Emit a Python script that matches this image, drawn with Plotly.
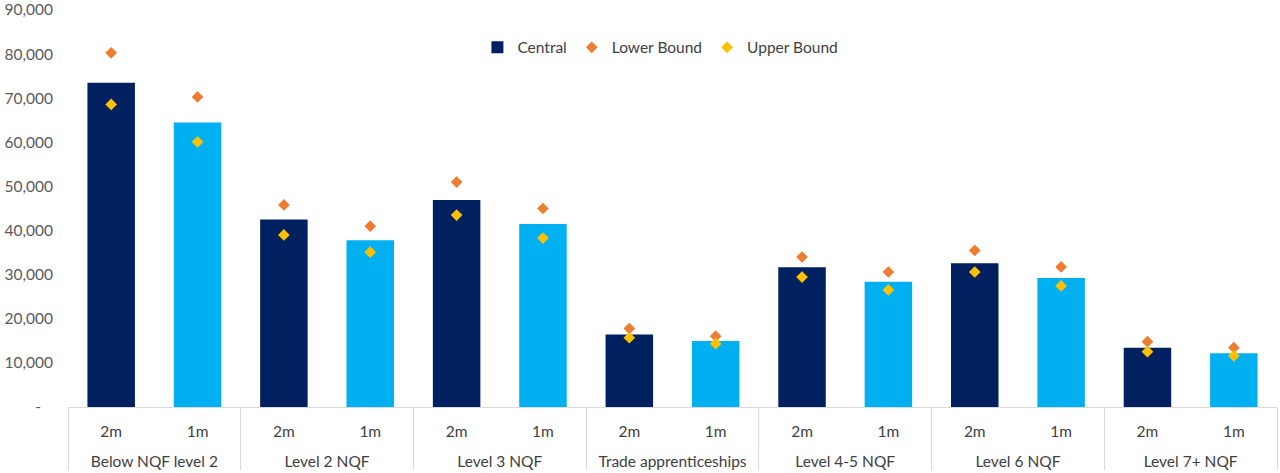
import plotly.graph_objects as go

groups = ["Below NQF level 2", "Level 2 NQF", "Level 3 NQF", "Trade apprenticeships",
          "Level 4-5 NQF", "Level 6 NQF", "Level 7+ NQF"]
subs = ["2m", "1m"]

central = [73500, 64500, 42500, 37800, 46900, 41500, 16450, 14950,
           31700, 28400, 32600, 29250, 13450, 12200]
lower_bound = [80300, 70300, 45800, 41000, 51000, 45000, 17800, 16050,
               34000, 30600, 35500, 31750, 14800, 13450]
upper_bound = [68600, 60100, 39000, 35100, 43500, 38300, 15700, 14350,
               29450, 26550, 30600, 27450, 12550, 11600]

y_ticks = [0, 10000, 20000, 30000, 40000, 50000, 60000, 70000, 80000, 90000]
y_tick_text = ["-\u00a0\u00a0\u00a0", "10,000", "20,000", "30,000", "40,000", "50,000",
               "60,000", "70,000", "80,000", "90,000"]

# group labels pushed down one line to leave room below the "2m"/"1m" row
group_labels = ["<br>" + g for g in groups]
x_outer = [g for g in group_labels for _ in subs]
x_inner = [s for _ in groups for s in subs]
x = [x_outer, x_inner]

navy = "#002060"
light = "#00B0F0"
bar_colors = [navy if s == "2m" else light for s in x_inner]

fig = go.Figure()
fig.add_trace(go.Bar(x=x, y=central, name="Central", marker=dict(color=bar_colors, line=dict(width=0))))
fig.add_trace(go.Scatter(x=x, y=lower_bound, name="Lower Bound", mode="markers",
                         marker=dict(symbol="diamond", size=9, color="#ED7D31")))
fig.add_trace(go.Scatter(x=x, y=upper_bound, name="Upper Bound", mode="markers",
                         marker=dict(symbol="diamond", size=9, color="#FFC000")))

font_color = "#404040"
fig.update_layout(
    width=1280, height=473,
    margin=dict(l=68, r=3, t=10, b=66, autoexpand=False),
    paper_bgcolor="white", plot_bgcolor="white",
    bargap=0.45,
    font=dict(family="Lato", size=15, color=font_color),
    showlegend=True,
    legend=dict(orientation="h", x=0.49, xanchor="center", y=0.905, yanchor="middle",
                font=dict(size=15.5, color=font_color), bgcolor="rgba(0,0,0,0)",
                itemwidth=30, tracegroupgap=0),
    xaxis=dict(type="multicategory", range=[-0.5, 13.5], autorange=False,
               showline=True, linecolor="#D9D9D9", linewidth=1,
               showdividers=True, dividercolor="#D9D9D9", dividerwidth=1,
               showgrid=False, ticks="", automargin=False, ticklabelstandoff=10,
               tickfont=dict(size=15.5, color=font_color)),
    yaxis=dict(range=[0, 90000], autorange=False, tickvals=y_ticks, ticktext=y_tick_text,
               showgrid=False, zeroline=False, showline=False, ticks="", automargin=False,
               ticklabeloverflow="allow",
               ticklabelstandoff=14, tickfont=dict(size=15.5, color="#595959")),
)

fig.write_html("out.html", config={"displayModeBar": False},
               post_script="document.body.style.margin='0';")
